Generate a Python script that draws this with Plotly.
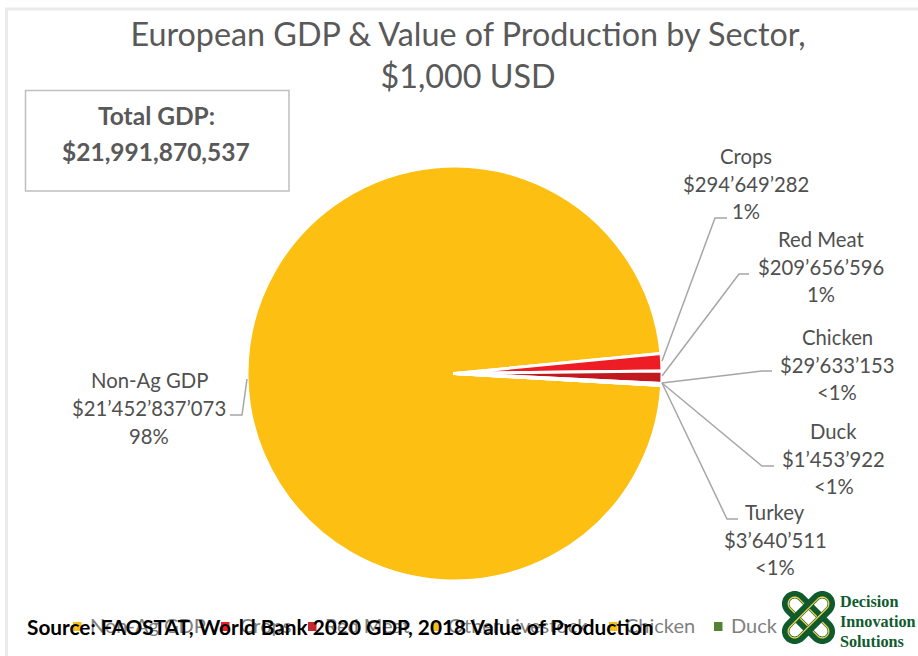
import math
import plotly.graph_objects as go

WIDTH, HEIGHT = 918, 656

# Sector values, $1,000 USD
sectors = ["Non-Ag GDP", "Crops", "Red Meat", "Chicken", "Duck", "Turkey"]
values = [21452837073, 294649282, 209656596, 29633153, 1453922, 3640511]
shares = ["98%", "1%", "1%", "<1%", "<1%", "<1%"]
colors = ["#FDBF11", "#EE1C25", "#C1191F", "#F5BE1A", "#548235", "#7F6000"]

legend_names = ["Non-Ag GDP", "Crops", "Red Meat", "Other Livestock", "Chicken", "Duck"]
legend_colors = ["#FDBF11", "#EE1C25", "#C1272D", "#F5BE1A", "#F5BE1A", "#548235"]

TITLE = "European GDP &amp; Value of Production by Sector,<br>$1,000 USD"
TOTAL_LINES = ["<b>Total GDP:</b>", "<b>$21,991,870,537</b>"]
SOURCE_TEXT = "<b>Source: FAOSTAT, World Bank 2020 GDP, 2018 Value of Production</b>"
LOGO_TEXT = ["Decision", "Innovation", "Solutions"]

FONT = "Lato"
GREY = "#595959"
LABEL_GREY = "#505050"
LEADER = "#A6A6A6"
LOGO_GREEN = "#0F5B2E"
LOGO_YELLOW = "#F6D24B"


def px(x):
    return x / WIDTH


def py(y):
    return 1 - y / HEIGHT


def path(points):
    return "M" + " L".join(f"{px(x):.5f},{py(y):.5f}" for x, y in points)


def money(v):
    return "$" + f"{v:,}".replace(",", "\u2019")


# Pie placement on the page, in pixels
cx, cy, radius = 454.5, 373.5, 207.5

fig = go.Figure(
    go.Pie(
        labels=sectors,
        values=values,
        sort=False,
        direction="clockwise",
        rotation=93.3,
        textinfo="none",
        hoverinfo="label+value+percent",
        showlegend=False,
        marker=dict(colors=colors, line=dict(color="white", width=3)),
        domain=dict(
            x=[px(cx - radius), px(cx + radius)],
            y=[py(cy + radius), py(cy - radius)],
        ),
    )
)

shapes = []
annotations = []


def text(x, y, s, size, color=GREY, family=FONT, xanchor="center"):
    annotations.append(
        dict(
            x=px(x), y=py(y), xref="paper", yref="paper", text=s, showarrow=False,
            xanchor=xanchor, yanchor="middle", align="center",
            font=dict(family=family, size=size, color=color),
        )
    )


# Outer chart frame, top and left edges
shapes.append(dict(type="path", xref="paper", yref="paper",
                   path=path([(6.5, HEIGHT), (6.5, 9), (WIDTH, 9)]),
                   line=dict(color="#EBEBEB", width=3)))

# Call-out box holding the total
shapes.append(dict(type="rect", xref="paper", yref="paper",
                   x0=px(25.5), x1=px(289), y0=py(191), y1=py(90.5),
                   line=dict(color="#BFBFBF", width=1.5), fillcolor="white"))
for line, y in zip(TOTAL_LINES, (116, 151)):
    text(156, y, line, 24.5)

# Data labels with their leader lines
label_centres = {
    "Non-Ag GDP": (149, 408.5),
    "Crops": (746, 184),
    "Red Meat": (821, 267),
    "Chicken": (837, 365),
    "Duck": (833.5, 459),
    "Turkey": (775, 540),
}
leaders = {
    "Non-Ag GDP": [(230, 415), (242, 415), (247, 379)],
    "Crops": [(662, 361), (715, 218), (727, 218)],
    "Red Meat": [(662, 376), (739, 274), (749, 274)],
    "Chicken": [(662, 383), (762, 371), (772, 371)],
    "Duck": [(662, 383), (762, 466), (774, 466)],
    "Turkey": [(662, 383), (727, 519), (738, 519)],
}
for name, value, share in zip(sectors, values, shares):
    x, y = label_centres[name]
    for line, offset in zip((name, money(value), share), (-27.8, 0, 27.8)):
        text(x, y + offset - 0.5, line, 20.3, color=LABEL_GREY)
    shapes.append(dict(type="path", xref="paper", yref="paper",
                       path=path(leaders[name]),
                       line=dict(color=LEADER, width=1.5)))

# Legend row
legend_swatches = [73, 221, 308, 432, 609, 714]
legend_text = [88, 238, 323, 446, 623, 729]
for name, colour, sx, tx in zip(legend_names, legend_colors, legend_swatches, legend_text):
    shapes.append(dict(type="rect", xref="paper", yref="paper",
                       x0=px(sx), x1=px(sx + 8.5), y0=py(631), y1=py(622),
                       line=dict(width=0), fillcolor=colour))
    text(tx, 625, name, 20, color="#7F7F7F", xanchor="left")

# Source line sits over the legend row
text(25, 626, SOURCE_TEXT, 20.8, color="#000000", xanchor="left")


# Company mark: two interlaced loops at right angles
def loop(ox, oy, half, r, angle):
    pts = []
    ca, sa = math.cos(angle), math.sin(angle)
    steps = 24
    for end, start_deg in ((half, -90), (-half, 90)):
        for i in range(steps + 1):
            t = math.radians(start_deg + 180 * i / steps)
            u = end + r * math.cos(t)
            v = r * math.sin(t)
            pts.append((ox + u * ca - v * sa, oy + u * sa + v * ca))
    return path(pts) + " Z"


logo_x, logo_y = 808.5, 617.5
for angle in (math.pi / 4, -math.pi / 4):
    shapes.append(dict(type="path", xref="paper", yref="paper",
                       path=loop(logo_x, logo_y, 19.5, 9, angle),
                       line=dict(color=LOGO_GREEN, width=7.5)))
    shapes.append(dict(type="path", xref="paper", yref="paper",
                       path=loop(logo_x, logo_y, 19.5, 6.5, angle),
                       line=dict(color=LOGO_YELLOW, width=1.3)))

for label, y in zip(LOGO_TEXT, (602, 622, 642)):
    text(838, y, f"<b>{label}</b>", 16.2, color=LOGO_GREEN,
         family="Liberation Serif", xanchor="left")

fig.update_layout(
    width=WIDTH,
    height=HEIGHT,
    margin=dict(l=0, r=0, t=0, b=0),
    paper_bgcolor="white",
    title=dict(
        text=TITLE, x=px(468), xanchor="center", y=py(46), yanchor="middle",
        font=dict(family=FONT, size=32.3, color=GREY),
    ),
    shapes=shapes,
    annotations=annotations,
)

fig.write_html("out.html")
